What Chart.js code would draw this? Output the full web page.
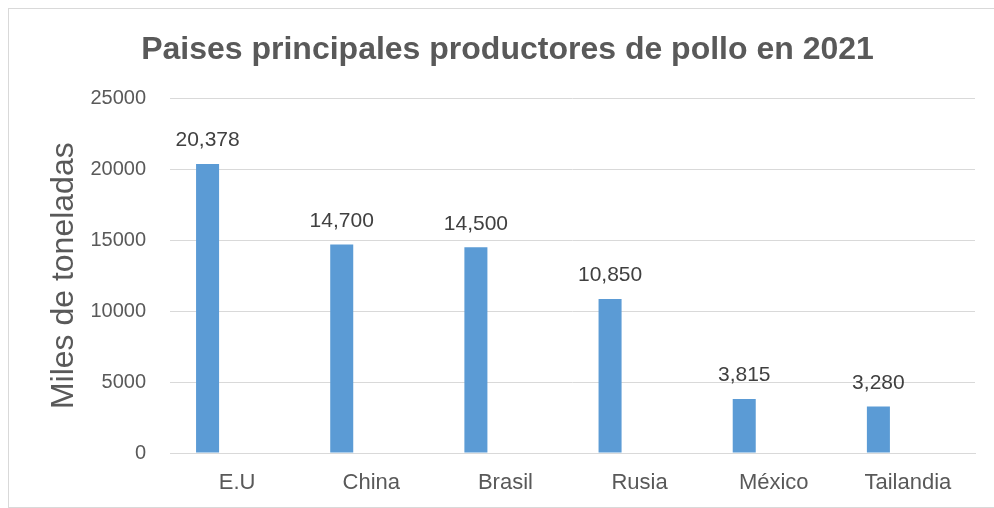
<!DOCTYPE html>
<html>
<head>
<meta charset="utf-8">
<script src="https://cdn.jsdelivr.net/npm/chart.js@4"></script>
<style>
  html, body { margin: 0; padding: 0; background: #fff; overflow: hidden; }
  #wrap { position: relative; width: 994px; height: 508px; }
  #myChart { display: block; }
  #frame { position: absolute; left: 8px; top: 8px; width: 990px; height: 500px; border: 1px solid #d9d9d9; box-sizing: border-box; pointer-events: none; }
</style>
</head>
<body>
<div id="wrap">
  <canvas id="myChart" width="994" height="508"></canvas>
  <div id="frame"></div>
</div>
<script>
const countries = ["E.U", "China", "Brasil", "Rusia", "México", "Tailandia"];
const production = [20378, 14700, 14500, 10850, 3815, 3280];
const emptySeries = [null, null, null, null, null, null];
const yTicks = [0, 5000, 10000, 15000, 20000, 25000];

// draws the value above each bar of the first dataset
const valueLabels = {
  id: "valueLabels",
  afterDatasetsDraw(chart) {
    const ctx = chart.ctx;
    const meta = chart.getDatasetMeta(0);
    ctx.save();
    ctx.font = "21px 'Liberation Sans', Arial, sans-serif";
    ctx.fillStyle = "#404040";
    ctx.textAlign = "center";
    ctx.textBaseline = "bottom";
    meta.data.forEach((bar, i) => {
      const v = chart.data.datasets[0].data[i];
      ctx.fillText(v.toLocaleString("en-US"), bar.x, bar.y - 13);
    });
    ctx.restore();
  },
};

document.addEventListener("DOMContentLoaded", function () {
  const ctx = document.getElementById("myChart").getContext("2d");
  new Chart(ctx, {
    type: "bar",
    data: {
      labels: countries,
      datasets: [
        { label: "Producción", data: production, backgroundColor: "#5b9bd5" },
        { label: "", data: emptySeries, backgroundColor: "#ed7d31" },
      ],
    },
    options: {
      responsive: false,
      animation: false,
      categoryPercentage: 0.88,
      barPercentage: 0.39,
      layout: { padding: { left: 40, right: 19, top: 10, bottom: 14 } },
      plugins: {
        legend: { display: false },
        tooltip: { enabled: false },
        title: {
          display: true,
          text: "Paises principales productores de pollo en 2021",
          color: "#595959",
          font: { family: "'Liberation Sans', Arial, sans-serif", size: 32, weight: "bold" },
          padding: { top: 21, bottom: 29 },
        },
      },
      scales: {
        x: {
          afterFit(scale) {
            scale.height = 41;
          },
          grid: { display: false, drawTicks: false },
          border: { display: true, color: "#d9d9d9" },
          ticks: {
            color: "#595959",
            padding: 17,
            maxRotation: 0,
            font: { family: "'Liberation Sans', Arial, sans-serif", size: 22 },
          },
        },
        y: {
          min: 0,
          max: 25000,
          afterBuildTicks(scale) {
            scale.ticks = yTicks.map((v) => ({ value: v }));
          },
          afterFit(scale) {
            scale.width = 130;
          },
          grid: { color: "#d9d9d9", drawTicks: false },
          border: { display: false },
          ticks: {
            color: "#595959",
            padding: 24,
            callback: (value) => String(value),
            font: { family: "'Liberation Sans', Arial, sans-serif", size: 20 },
          },
          title: {
            display: true,
            text: "Miles de toneladas",
            color: "#595959",
            font: { family: "'Liberation Sans', Arial, sans-serif", size: 32 },
            padding: { top: 5, bottom: 0 },
          },
        },
      },
    },
    plugins: [valueLabels],
  });
});
</script>
</body>
</html>
